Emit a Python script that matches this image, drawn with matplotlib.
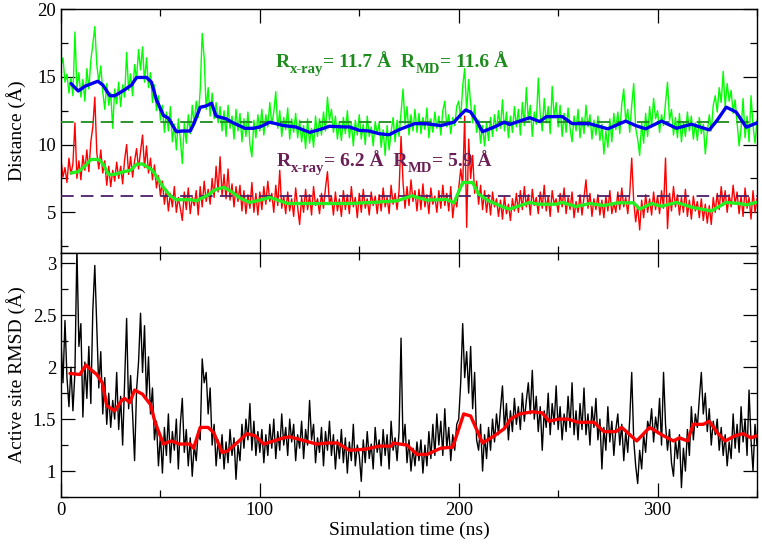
import numpy as np
import matplotlib
matplotlib.use("Agg")
import matplotlib.pyplot as plt
from matplotlib.ticker import MultipleLocator
from matplotlib.transforms import IdentityTransform

plt.rcParams['font.family'] = ['Liberation Serif', 'DejaVu Serif']

# ---------------- data (1 ns sampling) ----------------
dist1_noisy = [
    15.8,16.4,14.6,15.2,13.8,14.9,13.6,18.3,14.2,15.3,
    13.5,14.8,13.2,15.6,14.1,16.2,17.4,18.7,15.9,14.6,
    15.8,13.9,12.6,14.5,12.9,13.8,11.2,14.1,13.0,14.6,
    12.8,14.4,13.5,16.8,14.0,15.2,13.6,15.9,14.8,17.0,
    15.5,17.2,14.6,16.4,14.2,15.3,13.1,14.4,12.5,13.6,
    11.8,12.9,10.9,12.4,11.0,12.8,10.2,11.5,9.6,11.9,
    10.4,8.6,11.6,10.1,12.2,10.8,12.9,11.4,13.2,12.0,
    14.0,18.2,16.4,12.6,14.2,12.1,13.8,11.9,13.1,11.6,
    12.8,11.0,12.5,10.6,12.9,11.2,12.1,10.4,12.6,11.0,
    12.3,10.2,11.9,10.6,12.4,10.0,9.1,11.8,10.5,12.2,
    11.0,12.6,10.7,12.2,11.3,13.1,11.5,12.4,13.9,11.2,
    12.5,10.6,12.0,11.1,12.7,10.4,11.9,10.9,12.3,10.5,
    11.8,10.2,11.4,9.7,11.9,10.1,11.2,9.8,12.1,10.6,
    11.9,10.7,12.4,11.0,13.5,11.8,12.6,10.9,12.1,10.4,
    11.7,10.3,12.0,10.8,12.5,10.5,11.6,9.9,11.8,10.7,
    12.2,10.4,11.5,10.0,12.1,10.6,11.3,9.9,11.7,10.8,
    11.6,9.8,11.1,9.2,11.4,9.6,10.9,12.0,10.2,11.8,
    10.6,12.4,14.1,11.5,12.8,10.7,12.2,11.0,12.6,10.9,
    12.3,10.8,12.0,11.1,12.7,10.5,11.9,10.9,12.4,11.2,
    12.1,10.7,12.5,13.2,11.3,12.2,10.8,12.0,11.4,12.8,
    13.2,11.9,14.3,15.6,12.4,14.8,13.0,11.6,12.9,10.9,
    11.8,10.1,11.4,9.9,11.6,10.3,12.0,10.6,12.2,11.0,
    12.5,11.2,13.3,11.0,12.4,10.5,12.1,10.9,12.8,11.3,
    12.6,10.7,13.1,11.4,14.2,11.8,12.9,10.6,12.4,11.5,
    14.9,12.2,11.0,13.4,11.6,12.8,10.8,14.3,12.0,13.1,
    11.3,12.9,10.6,12.3,10.9,12.7,11.2,10.2,12.1,11.0,
    12.6,10.5,12.0,10.8,12.9,11.3,12.2,10.4,11.8,10.7,
    12.1,10.3,11.5,9.3,11.0,9.8,11.9,10.2,12.3,11.1,
    12.4,10.8,13.0,14.1,11.7,12.6,10.9,12.9,14.5,11.2,
    10.4,9.2,11.6,10.1,12.3,10.6,12.8,11.3,13.4,11.9,
    12.5,10.9,12.2,11.4,13.1,14.6,11.8,12.6,10.7,12.0,
    10.5,12.3,10.2,11.7,10.6,12.4,11.0,12.1,10.4,11.6,
    10.3,12.0,10.8,11.5,9.3,10.9,12.2,11.0,12.9,13.6,
    12.4,14.2,13.1,15.4,12.8,14.5,13.2,14.0,12.3,13.3,
    11.6,9.9,11.2,13.4,10.5,12.1,10.2,13.6,11.4,10.1,11.8,
]

dist2_noisy = [
    8.9,7.6,8.3,7.2,9.0,7.8,8.6,11.6,7.5,8.8,
    7.4,9.2,8.1,9.6,8.0,10.2,11.3,13.5,9.4,8.2,
    9.6,7.9,8.8,7.0,8.4,6.9,8.1,7.3,8.7,7.5,
    8.4,7.1,8.9,10.0,7.8,9.1,7.6,8.8,9.7,8.2,
    9.5,10.7,8.3,9.9,7.9,9.0,7.4,8.5,6.8,7.7,
    6.2,7.3,5.6,6.7,5.1,6.4,5.4,6.9,5.0,6.1,
    5.3,4.4,6.5,5.2,6.8,4.9,6.1,5.5,6.6,4.8,
    6.9,5.4,7.3,5.8,6.7,5.6,7.5,6.1,8.4,6.5,
    9.1,6.2,7.8,6.0,8.2,5.9,7.1,5.4,6.9,5.8,
    7.0,5.1,6.6,4.9,6.3,5.3,7.2,5.0,6.4,4.8,
    6.5,5.2,6.9,5.6,7.3,5.8,6.4,5.0,7.0,5.5,
    8.1,5.3,6.2,4.9,6.5,5.1,6.0,4.7,6.8,5.4,
    4.1,6.1,5.0,6.7,5.2,6.3,4.8,6.9,5.5,6.0,
    4.9,6.4,5.3,6.8,8.0,5.6,6.2,4.8,6.5,5.1,
    6.0,4.7,6.6,5.2,6.3,4.9,6.9,5.4,6.1,4.6,
    6.4,5.0,6.7,5.3,6.0,4.8,6.5,5.5,6.2,4.9,
    6.3,5.1,6.8,5.4,6.1,4.9,7.0,5.6,6.4,5.2,
    6.6,10.6,7.2,5.3,6.9,5.5,7.4,5.8,6.6,5.1,
    6.7,5.2,7.1,5.4,6.3,4.9,6.8,5.6,6.2,5.0,
    6.6,5.3,7.0,5.5,6.4,5.1,6.9,4.6,6.0,5.4,
    6.8,8.2,7.0,12.1,3.9,10.4,7.5,9.2,6.4,7.3,
    5.6,7.0,5.2,6.6,5.0,6.3,4.8,6.5,5.4,6.0,
    4.7,5.9,4.5,6.2,4.9,5.6,4.4,6.0,5.1,6.4,
    5.0,6.6,5.2,6.9,5.4,6.3,4.8,6.7,5.5,6.1,
    4.9,6.5,5.3,7.0,5.1,6.2,4.7,6.6,5.6,6.0,
    5.0,6.4,5.4,6.8,4.9,6.1,5.2,6.5,4.6,5.8,
    5.0,6.3,4.8,6.1,7.4,5.3,6.4,4.7,6.0,5.2,
    6.3,4.8,5.9,4.6,6.2,5.1,6.6,4.9,5.7,5.0,
    6.5,5.2,6.8,5.4,6.1,4.9,6.4,9.0,5.8,4.3,
    5.5,3.7,5.9,4.6,6.3,5.0,6.0,4.8,6.5,5.2,
    6.2,4.9,6.6,5.3,9.0,3.8,6.4,5.1,6.9,5.4,
    6.3,4.8,6.1,5.0,6.7,4.7,5.9,4.5,6.2,5.1,
    5.8,4.6,6.0,4.4,5.6,4.2,5.5,4.1,6.1,5.0,
    6.4,5.2,6.9,5.5,6.6,5.0,6.3,5.4,7.0,5.6,
    6.5,4.9,6.2,4.7,6.8,5.3,6.1,4.5,6.6,5.0,6.0,
]

rmsd_noisy = [
    2.25,1.85,2.45,1.90,1.62,2.00,1.58,1.95,3.15,2.20,
    2.42,1.52,2.05,1.70,2.20,1.65,2.55,2.98,2.40,1.80,
    2.15,1.55,1.90,1.45,1.75,1.42,1.68,1.50,1.95,1.40,
    1.72,1.25,1.85,2.47,1.60,1.92,1.55,1.10,1.78,2.05,
    2.52,1.95,2.40,1.70,2.10,1.55,1.80,1.30,1.48,1.05,
    1.35,0.98,1.42,1.15,1.55,1.08,1.38,1.20,1.50,1.02,
    1.45,1.70,1.18,1.40,1.05,1.32,0.95,1.25,1.10,1.38,
    1.30,2.08,1.85,1.95,1.55,1.80,1.25,1.45,1.05,1.30,
    1.12,1.35,1.02,1.28,1.08,1.40,1.15,1.32,0.92,1.25,
    1.10,1.45,1.22,1.50,1.30,1.65,1.20,1.48,1.15,1.38,
    1.18,1.40,1.08,1.35,1.15,1.45,1.22,1.50,1.12,1.38,
    1.20,1.55,1.25,1.42,1.15,1.50,1.28,1.45,1.10,1.35,
    1.22,1.48,1.12,1.40,1.25,1.68,1.30,1.45,1.08,1.32,
    1.18,1.42,1.05,1.38,1.20,1.48,1.15,1.35,1.02,1.30,
    1.12,1.40,1.08,1.32,0.98,1.28,1.10,1.45,1.05,1.25,
    1.15,0.90,1.30,1.08,1.38,1.12,1.26,1.02,1.42,1.18,
    1.30,1.05,1.40,1.15,1.35,1.02,1.48,1.20,1.32,1.10,
    1.38,2.28,1.25,1.45,1.08,1.30,1.00,1.22,1.05,1.28,
    1.10,1.30,0.98,1.25,1.05,1.38,1.12,1.45,1.15,1.55,
    1.25,1.48,1.15,1.60,1.22,1.42,1.10,1.35,1.20,1.45,
    1.50,1.85,2.42,1.90,2.15,1.75,2.20,1.60,1.95,1.30,
    1.20,1.45,1.00,1.35,1.12,1.42,1.20,1.50,1.28,1.55,
    1.35,1.60,1.82,1.40,1.65,1.30,1.58,1.38,1.70,1.45,
    1.62,1.40,1.75,1.48,1.68,1.85,1.55,1.97,1.50,1.72,
    1.38,1.62,1.20,1.58,1.42,1.75,1.35,1.65,1.45,1.82,
    1.40,1.62,1.30,1.55,1.38,1.72,1.42,1.85,1.35,1.58,
    1.30,1.65,1.40,1.80,1.35,1.55,1.25,1.62,1.42,1.70,
    1.30,1.50,1.02,1.42,1.20,1.62,1.28,1.48,1.15,1.40,
    1.55,1.25,1.45,1.10,1.38,1.18,1.50,1.95,1.30,1.05,
    0.88,1.20,1.02,1.35,1.18,1.48,1.40,1.60,1.28,1.52,
    1.38,1.70,1.25,1.95,1.45,1.20,1.40,1.08,0.95,1.30,
    1.12,1.35,0.84,1.22,1.00,1.40,1.15,1.62,1.30,1.55,
    1.42,1.70,1.95,1.55,1.75,1.38,1.60,1.25,1.48,1.35,
    1.50,1.20,1.42,1.15,1.35,1.05,1.28,1.12,1.55,1.22,
    1.45,1.18,1.62,1.28,1.50,1.15,1.78,1.30,1.00,1.45,1.25,
]

# running averages (read at irregular times)
dist1_avg_t = [5, 8.7, 12, 18.5, 21, 24.6, 27, 31.6, 35.5, 38, 43, 45.5, 48, 51.5, 54, 58, 61, 65, 67, 70,
               73, 75.7, 78, 83, 86.6, 92.5, 96.7, 100, 105, 112, 118, 125, 130, 135, 142, 145, 150, 155,
               160, 165, 170, 178, 184, 191, 197.6, 201, 203.5, 206, 209, 212, 218, 223, 225.6, 230, 235.7,
               240.7, 244, 252, 257, 266, 275, 284, 289, 294, 302, 309.5, 317, 326, 330, 334.5, 339.5,
               344.6, 350]
dist1_avg = [14.5, 13.95, 14.3, 14.67, 14.4, 13.6, 13.6, 14.0, 14.4, 14.95, 14.95, 14.6, 13.3, 12.15, 11.95,
             10.95, 11.0, 11.0, 11.6, 12.75, 12.85, 13.05, 12.1, 11.9, 11.6, 11.2, 11.2, 11.3, 11.65, 11.4,
             11.3, 10.9, 11.1, 11.35, 11.3, 11.3, 11.05, 11.0, 10.8, 10.72, 11.1, 11.55, 11.53, 11.4, 11.65,
             12.2, 12.55, 12.4, 11.75, 10.95, 11.3, 11.65, 11.48, 11.7, 11.98, 11.7, 12.05, 12.07, 11.55,
             11.53, 11.16, 11.73, 11.4, 11.16, 11.73, 11.2, 11.5, 11.08, 11.8, 12.76, 12.4, 11.28, 11.6]

dist2_avg_t = [5, 8.7, 12, 15, 19, 21, 24, 27, 31.6, 35, 38, 41, 46, 51.5, 55, 58, 65, 68, 73, 78, 82, 86,
               90, 95, 100, 105, 114, 130, 145, 159, 169, 176.5, 184, 194, 197.6, 202, 207, 210, 215, 223,
               225.6, 235.7, 240, 249, 252, 259, 266, 273, 280, 288, 291, 297, 302, 309.5, 318, 327, 334.5,
               341, 344.6, 350]
dist2_avg = [7.9, 8.0, 8.4, 8.9, 8.9, 8.6, 7.78, 7.8, 8.0, 8.1, 8.55, 8.57, 8.1, 6.84, 6.2, 5.93, 5.93, 5.85,
             6.2, 6.7, 6.84, 6.5, 6.05, 5.73, 5.9, 6.1, 5.65, 5.65, 5.65, 5.75, 5.85, 6.22, 5.9, 5.95, 5.7,
             7.2, 7.2, 6.35, 5.85, 5.35, 5.24, 5.73, 5.6, 5.6, 5.73, 5.43, 5.65, 5.5, 5.7, 5.7, 5.24, 5.65,
             5.45, 5.73, 5.35, 5.1, 5.73, 5.65, 5.55, 5.75]

rmsd_avg_t = [4.5, 9.5, 12.5, 14.8, 18, 20.8, 23, 27, 30.5, 32, 34.6, 37, 41, 45, 47.3, 51.5, 55.5, 59.5, 65,
              66.7, 70, 74, 76.8, 81, 83.5, 88.4, 93.5, 97.6, 102, 112, 115, 128.5, 134, 139, 145, 153, 160,
              166, 167, 174, 179, 184, 191, 197, 202.5, 206, 212, 218, 223, 226, 230.6, 237, 242, 245.5, 250,
              255, 260, 268, 273, 279, 282, 289.5, 296, 302, 308, 311, 315, 318, 323, 326, 330, 334, 339,
              343, 347, 350]
rmsd_avg = [1.94, 1.93, 2.02, 1.98, 1.93, 1.85, 1.63, 1.58, 1.68, 1.70, 1.66, 1.78, 1.74, 1.64, 1.47, 1.26,
            1.29, 1.26, 1.26, 1.22, 1.42, 1.42, 1.37, 1.18, 1.19, 1.27, 1.36, 1.34, 1.26, 1.32, 1.33, 1.26,
            1.27, 1.27, 1.20, 1.21, 1.24, 1.24, 1.27, 1.25, 1.16, 1.16, 1.22, 1.23, 1.55, 1.53, 1.27, 1.34,
            1.41, 1.50, 1.55, 1.57, 1.56, 1.48, 1.50, 1.50, 1.47, 1.47, 1.38, 1.38, 1.42, 1.29, 1.42, 1.35,
            1.29, 1.32, 1.29, 1.45, 1.45, 1.48, 1.37, 1.29, 1.34, 1.36, 1.32, 1.34]

r_xray_1, r_md_1 = 11.7, 11.6
r_xray_2, r_md_2 = 6.2, 5.9

time_ns = np.arange(len(dist1_noisy))
time2_ns = np.arange(len(dist2_noisy))
time3_ns = np.arange(len(rmsd_noisy))

# ---------------- figure ----------------
fig = plt.figure(figsize=(7.62, 5.45), dpi=100)
W, H = 762, 545
left, right = 61, 757
ax1 = fig.add_axes([left / W, 1 - 253 / H, (right - left) / W, 244 / H])
ax2 = fig.add_axes([left / W, 1 - 497 / H, (right - left) / W, 244 / H])

DKGREEN = '#1d8c1d'
PURPLE = '#6a1f55'
DASHPURPLE = '#4b1f6a'

ax1.plot(time_ns, dist1_noisy, color='#00ff00', lw=1.0, zorder=2)
ax1.plot(time2_ns, dist2_noisy, color='#ff0000', lw=1.0, zorder=2)
ax1.axhline(r_xray_1, color=DKGREEN, lw=1.3, dashes=(7, 4), zorder=3)
ax1.axhline(r_xray_2, color=DASHPURPLE, lw=1.3, dashes=(7, 4), zorder=3)
ax1.plot(dist1_avg_t, dist1_avg, color='#0000ee', lw=2.4, zorder=4, solid_capstyle='round')
ax1.plot(dist2_avg_t, dist2_avg, color='#22ee22', lw=2.4, zorder=4, solid_capstyle='round')

ax2.plot(time3_ns, rmsd_noisy, color='black', lw=1.0, zorder=2)
ax2.plot(rmsd_avg_t, rmsd_avg, color='#ff0000', lw=2.4, zorder=4, solid_capstyle='round')

ax1.set_xlim(0, 350)
ax2.set_xlim(0, 350)
ax1.set_ylim(2, 20)
ax2.set_ylim(0.75, 3.1)

for ax in (ax1, ax2):
    ax.xaxis.set_major_locator(MultipleLocator(100))
    ax.xaxis.set_minor_locator(MultipleLocator(50))
    ax.tick_params(which='both', direction='in', top=True, right=True, labelsize=13.5, width=0.9,
                   colors='black')
    ax.tick_params(which='major', length=10)
    ax.tick_params(which='minor', length=5)
    for s in ax.spines.values():
        s.set_linewidth(1.0)

ax1.yaxis.set_minor_locator(MultipleLocator(2.5))
ax1.set_yticks([5, 10, 15, 20])
ax1.tick_params(labelbottom=False)
ax2.yaxis.set_minor_locator(MultipleLocator(0.25))
ax2.set_yticks([1, 1.5, 2, 2.5, 3])
ax2.set_yticklabels(['1', '1.5', '2', '2.5', '3'])

ax1.set_ylabel('Distance (Å)', fontsize=14)
ax2.set_ylabel('Active site RMSD (Å)', fontsize=14)
ax2.set_xlabel('Simulation time (ns)', fontsize=14, labelpad=2)
ax1.yaxis.set_label_coords(-0.050, 0.5)
ax2.yaxis.set_label_coords(-0.050, 0.5)

# ---------------- annotations built from pieces (main + subscript) ----------------
renderer = fig.canvas.get_renderer()


def rich_text(ax, x, y, pieces, color, size=14.0, subsize=10.5, subdrop=6):
    px, py = ax.transData.transform((x, y))
    for txt, is_sub in pieces:
        t = fig.text(px, py - (subdrop if is_sub else 0), txt, transform=IdentityTransform(),
                     fontsize=subsize if is_sub else size, fontweight='bold', color=color,
                     va='baseline', ha='left', zorder=6)
        px += t.get_window_extent(renderer).width


rich_text(ax1, 108, 15.75,
          [('R', False), ('x-ray', True), ('= %.1f Å  R' % r_xray_1, False), ('MD', True),
           ('= %.1f Å' % r_md_1, False)], DKGREEN)
rich_text(ax1, 108.5, 8.45,
          [('R', False), ('x-ray', True), ('= %.1f Å  R' % r_xray_2, False), ('MD', True),
           ('= %.1f Å' % r_md_2, False)], PURPLE)

fig.savefig('out.png', dpi=100)
